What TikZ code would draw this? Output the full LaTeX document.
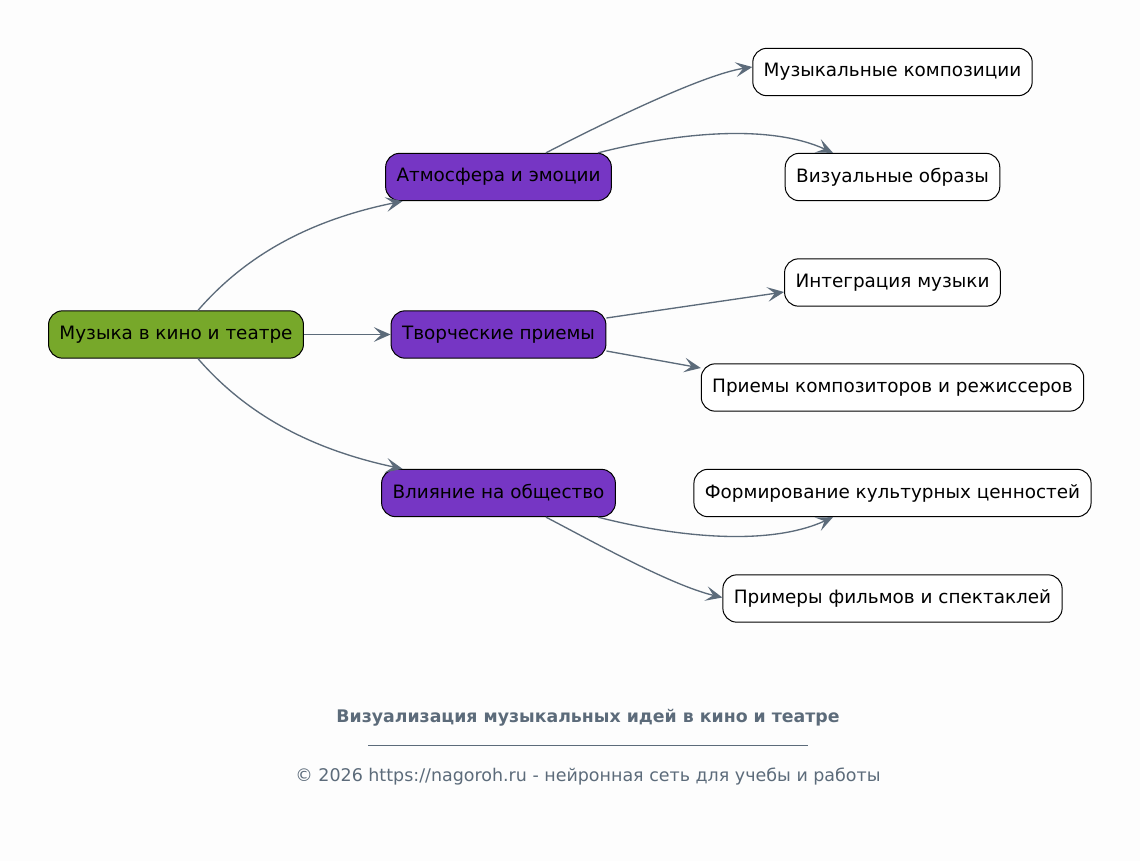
\documentclass[tikz,border=0pt]{standalone}
\usepackage{fontspec}
\setmainfont{DejaVu Sans}
\usetikzlibrary{arrows.meta,calc}
\definecolor{edgec}{HTML}{5C6B7A}
\definecolor{rootc}{HTML}{77A82A}
\definecolor{midc}{HTML}{7636C4}
\definecolor{bgc}{HTML}{FDFDFD}
\begin{document}
\begin{tikzpicture}[x=0.75pt,y=-0.75pt,
  box/.style={draw=black,line width=0.75pt,rounded corners=10.5pt,minimum height=35.5pt,inner xsep=8.2pt,font=\fontsize{13.8pt}{16pt}\selectfont,text=black},
  rootbox/.style={box,fill=rootc},
  midbox/.style={box,fill=midc},
  leafbox/.style={box,fill=white},
  conn/.style={draw=edgec,line width=1pt,-{Stealth[length=12.5pt,width=11pt,inset=5.5pt]}},
  foot/.style={text=edgec,font=\fontsize{13.1pt}{15pt}\selectfont}]
\fill[bgc] (0,0) rectangle (1140,861);
\useasboundingbox (0,0) rectangle (1140,861);

\node[rootbox] (root) at (176,334.5) {Музыка в кино и театре};
\node[midbox] (A) at (498.5,177) {Атмосфера и эмоции};
\node[midbox] (B) at (498.5,334.5) {Творческие приемы};
\node[midbox] (C) at (498.5,493) {Влияние на общество};
\node[leafbox] (L1) at (892.5,72) {Музыкальные композиции};
\node[leafbox] (L2) at (892.5,177) {Визуальные образы};
\node[leafbox] (L3) at (892.5,282.5) {Интеграция музыки};
\node[leafbox] (L4) at (892.5,387.5) {Приемы композиторов и режиссеров};
\node[leafbox] (L5) at (892.5,493) {Формирование культурных ценностей};
\node[leafbox] (L6) at (892.5,598.5) {Примеры фильмов и спектаклей};

\draw[conn] ($(root.north)+(22,0)$) .. controls (240,262) and (300,222) .. ($(A.south)+(-96,0)$);
\draw[conn] (root.east) -- (B.west);
\draw[conn] ($(root.south)+(22,0)$) .. controls (240,407) and (300,447) .. ($(C.north)+(-96,0)$);
\draw[conn] ($(A.north)+(47.5,0)$) .. controls (590,130) and (700,75) .. ($(L1.west)+(0,-5)$);
\draw[conn] ($(A.north)+(99.5,0)$) .. controls (680,132) and (770,124) .. ($(L2.north)+(-59.5,0)$);
\draw[conn] ($(B.east)+(0,-16.5)$) -- ($(L3.west)+(0,9.5)$);
\draw[conn] ($(B.east)+(0,16.5)$) -- ($(L4.west)+(0,-19.5)$);
\draw[conn] ($(C.south)+(99.5,0)$) .. controls (680,538) and (770,546) .. ($(L5.south)+(-59.5,0)$);
\draw[conn] ($(C.south)+(47.5,0)$) .. controls (590,540) and (670,585) .. ($(L6.west)+(0,-1)$);

\node[foot,font=\fontsize{13pt}{15pt}\selectfont\bfseries] (title) at (588,718) {Визуализация музыкальных идей в кино и театре};
\coordinate (rl) at (368,745);
\coordinate (rr) at (808,745);
\draw[edgec,line width=0.6pt] (rl) -- (rr);
\node[foot] (copy) at (588,777) {© 2026 https://nagoroh.ru - нейронная сеть для учебы и работы};
\end{tikzpicture}
\end{document}
